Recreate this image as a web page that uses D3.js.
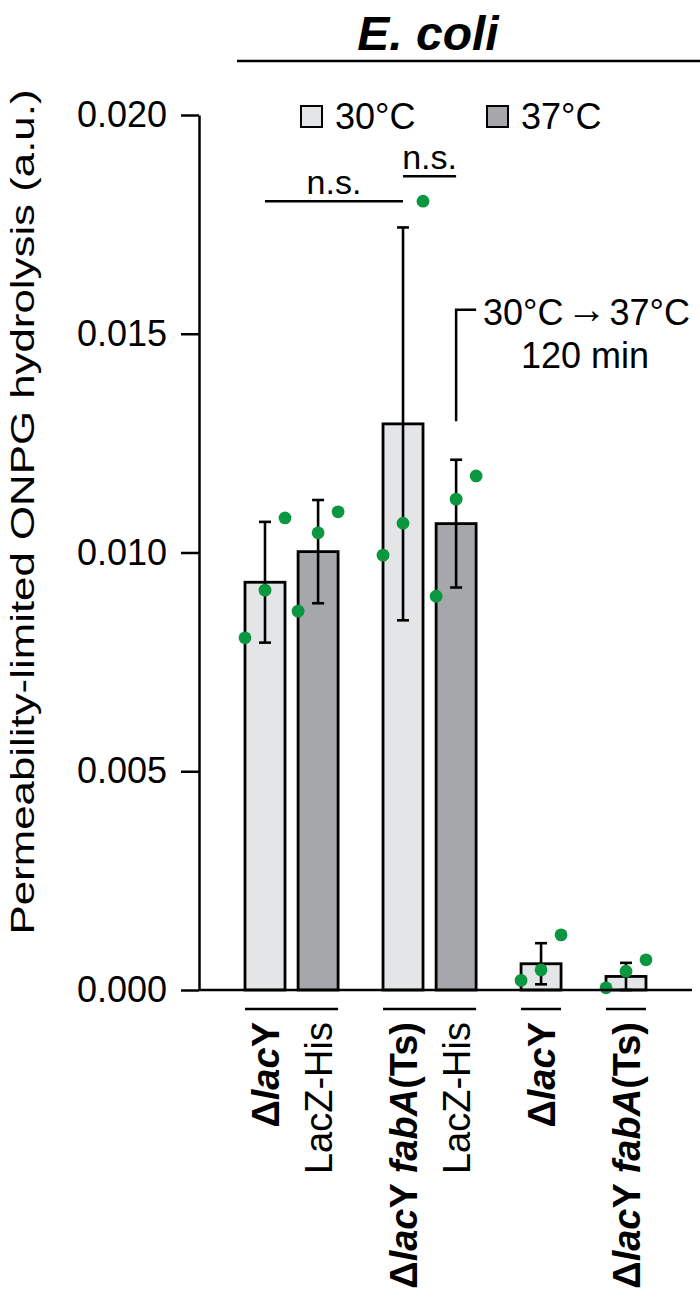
<!DOCTYPE html>
<html>
<head>
<meta charset="utf-8">
<script src="https://cdn.jsdelivr.net/npm/d3@7"></script>
<style>
  body { margin: 0; background: #fff; }
  svg text { font-family: "Liberation Sans", Arial, Helvetica, sans-serif; fill: #000; }
</style>
</head>
<body>
<svg id="chart"></svg>
<script>

// values
const barGroup = [0, 0, 1, 1, 2, 3];
const barTemp  = ["30°C", "37°C", "30°C", "37°C", "30°C", "30°C"];
const barMean  = [0.00932, 0.01002, 0.01294, 0.01066, 0.00060, 0.00031];
const barSD    = [0.00138, 0.00118, 0.00449, 0.00146, 0.00047, 0.00031];
const replicates = [
    [0.00805, 0.00914, 0.01079],
    [0.00866, 0.01045, 0.01093],
    [0.00994, 0.01067, 0.01803],
    [0.00900, 0.01122, 0.01175],
    [0.00022, 0.00046, 0.00126],
    [0.00005, 0.00043, 0.00069]
];

// label pieces: [text, bold, italic]
const barLabels = [
    [["Δ",1,0],["lac",1,1],["Y",1,0]],
    [["LacZ-His",0,0]],
    [["Δ",1,0],["lac",1,1],["Y ",1,0],["fabA",1,1],["(Ts)",1,0]],
    [["LacZ-His",0,0]],
    [["Δ",1,0],["lac",1,1],["Y",1,0]],
    [["Δ",1,0],["lac",1,1],["Y ",1,0],["fabA",1,1],["(Ts)",1,0]]
];

const temps = ["30°C", "37°C"];
const yTicks = [0, 0.005, 0.010, 0.015, 0.020];
const sigTests = [
    {from: 0, to: 2, at: 0.01803, label: "n.s."},
    {from: 2, to: 3, at: 0.01860, label: "n.s."}
];

function drawChart(){

    const width = 700, height = 1300;
    const svg = d3.select("#chart")
                  .attr("width", width)
                  .attr("height", height);

    const color = d3.scaleOrdinal().domain(temps).range(["#e4e5e7", "#a5a7aa"]);

    // slot positions: 1 step inside a group, 1.6 between groups
    const slots = [];
    barGroup.forEach((g, i) => {
        if (i === 0) slots.push(0);
        else slots.push(slots[i-1] + (g === barGroup[i-1] ? 1 : 1.6));
    });

    const x = d3.scaleLinear().domain([0, d3.max(slots)]).range([265, 626]);
    const y = d3.scaleLinear().domain([0, 0.02]).range([990, 115]);
    const barW = 40;

    // title
    svg.append("text")
        .attr("x", 428).attr("y", 50)
        .attr("text-anchor", "middle")
        .style("font-size", "48px")
        .style("font-weight", "bold")
        .style("font-style", "italic")
        .text("E. coli");

    svg.append("line")
        .attr("x1", 237).attr("x2", 700)
        .attr("y1", 61).attr("y2", 61)
        .style("stroke", "black").style("stroke-width", 2.5);

    // y axis
    const yAxis = svg.append("g")
        .attr("transform", "translate(199,0)")
        .call(d3.axisLeft(y).tickValues(yTicks).tickFormat(d3.format(".3f"))
                .tickSize(18).tickSizeOuter(0).tickPadding(14));
    yAxis.selectAll("path, line").style("stroke", "black").style("stroke-width", 2.5);
    yAxis.selectAll("text").style("font-size", "36px")
         .style("font-family", "'Liberation Sans', Arial, sans-serif");

    svg.append("text")
        .attr("transform", "translate(34,512) rotate(-90)")
        .attr("text-anchor", "middle")
        .attr("textLength", 845)
        .attr("lengthAdjust", "spacingAndGlyphs")
        .style("font-size", "34px")
        .text("Permeability-limited ONPG hydrolysis (a.u.)");

    // bars
    const bars = barMean.map((m, i) => ({
        i: i, mean: m, sd: barSD[i], temp: barTemp[i], pts: replicates[i], cx: x(slots[i])
    }));

    svg.append("g")
        .selectAll("rect")
        .data(bars)
        .join("rect")
        .attr("x", d => d.cx - barW/2)
        .attr("y", d => y(d.mean))
        .attr("width", barW)
        .attr("height", d => y(0) - y(d.mean))
        .attr("fill", d => color(d.temp))
        .style("stroke", "black")
        .style("stroke-width", 2.8);

    // error bars
    const eb = svg.append("g").style("stroke", "black").style("stroke-width", 2.6);
    bars.forEach(d => {
        const lo = y(Math.max(0, d.mean - d.sd)), hi = y(d.mean + d.sd);
        eb.append("line").attr("x1", d.cx).attr("x2", d.cx).attr("y1", lo).attr("y2", hi);
        eb.append("line").attr("x1", d.cx - 6).attr("x2", d.cx + 6).attr("y1", hi).attr("y2", hi);
        eb.append("line").attr("x1", d.cx - 6).attr("x2", d.cx + 6).attr("y1", lo).attr("y2", lo);
    });

    // replicate dots
    svg.append("g")
        .selectAll("circle")
        .data(bars.flatMap(d => d.pts.map((v, k) => ({cx: d.cx + (k - 1) * barW/2, v: v}))))
        .join("circle")
        .attr("cx", d => d.cx)
        .attr("cy", d => y(d.v))
        .attr("r", 6.4)
        .attr("fill", "#0b9640");

    // x axis baseline
    svg.append("line")
        .attr("x1", 199).attr("x2", 692)
        .attr("y1", y(0)).attr("y2", y(0))
        .style("stroke", "black").style("stroke-width", 2.5);

    // group underlines
    const groupIds = Array.from(new Set(barGroup));
    svg.append("g")
        .selectAll("line")
        .data(groupIds)
        .join("line")
        .attr("x1", g => d3.min(bars.filter(b => barGroup[b.i] === g), b => b.cx) - barW/2)
        .attr("x2", g => d3.max(bars.filter(b => barGroup[b.i] === g), b => b.cx) + barW/2)
        .attr("y1", 1009).attr("y2", 1009)
        .style("stroke", "black").style("stroke-width", 2.5);

    // x labels
    const lab = svg.append("g")
        .selectAll("text")
        .data(bars)
        .join("text")
        .attr("transform", d => `translate(${d.cx},1022) rotate(-90)`)
        .attr("text-anchor", "end")
        .attr("dy", "0.36em")
        .style("font-size", "38px");
    lab.each(function(d){
        d3.select(this).selectAll("tspan")
            .data(barLabels[d.i])
            .join("tspan")
            .style("font-weight", p => p[1] ? "bold" : "normal")
            .style("font-style", p => p[2] ? "italic" : "normal")
            .attr("xml:space", "preserve")
            .text(p => p[0]);
    });

    // legend
    const leg = svg.append("g")
        .selectAll("g")
        .data(temps)
        .join("g")
        .attr("transform", (d, i) => `translate(${301 + i * 186},106)`);
    leg.append("rect")
        .attr("width", 21).attr("height", 21)
        .attr("fill", d => color(d))
        .style("stroke", "black").style("stroke-width", 2);
    leg.append("text")
        .attr("x", 34).attr("y", 23)
        .style("font-size", "36px")
        .text(d => d);

    // significance
    sigTests.forEach(s => {
        const x1 = x(slots[s.from]), x2 = x(slots[s.to]);
        svg.append("line")
            .attr("x1", x1).attr("x2", x2)
            .attr("y1", y(s.at)).attr("y2", y(s.at))
            .style("stroke", "black").style("stroke-width", 2.5);
        svg.append("text")
            .attr("x", (x1 + x2) / 2)
            .attr("y", y(s.at) - 7)
            .attr("text-anchor", "middle")
            .style("font-size", "34px")
            .text(s.label);
    });

    // temperature shift annotation on the 37°C bar of group 2
    const ax = x(slots[3]);
    svg.append("path")
        .attr("d", `M${ax},${y(0.0130)} V${y(0.01555)} H${ax + 20}`)
        .attr("fill", "none")
        .style("stroke", "black").style("stroke-width", 2.5);
    const shift = svg.append("text")
        .attr("x", 483).attr("y", 325)
        .style("font-size", "36px");
    shift.append("tspan").text("30°C");
    shift.append("tspan").attr("dx", 3).attr("dy", -2).style("font-size", "40px").text("→");
    shift.append("tspan").attr("dx", 3).attr("dy", 2).text("37°C");
    svg.append("text")
        .attr("x", 585).attr("y", 368)
        .attr("text-anchor", "middle")
        .style("font-size", "36px")
        .text("120 min");
}

drawChart();
</script>
</body>
</html>
